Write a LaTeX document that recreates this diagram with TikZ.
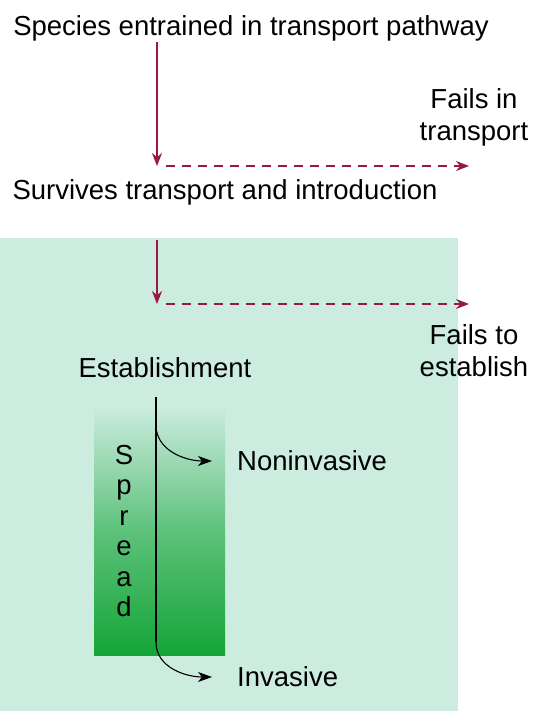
\documentclass[tikz,border=0pt]{standalone}
\usepackage{fontspec}
\setmainfont{Liberation Sans}
\usetikzlibrary{arrows.meta}
\definecolor{wine}{RGB}{150,25,70}
\definecolor{mint}{RGB}{204,236,224}
\definecolor{leaf}{RGB}{20,165,55}
\begin{document}
\begin{tikzpicture}[x=1pt,y=-1pt,
		txt/.style={inner sep=0pt,font=\fontsize{27.5}{32}\selectfont},
		flow/.style={wine,line width=1.3pt,-{Stealth[length=13pt,width=10pt]}},
		fail/.style={wine,line width=1.3pt,dash pattern=on 9pt off 7pt,-{Stealth[length=13pt,width=10pt]}},
		branch/.style={black,line width=1.1pt,-{Stealth[length=14pt,width=10pt,inset=4pt]}}]
		
		\useasboundingbox (0,0) rectangle (533,711);
		\fill[mint] (0,238) rectangle (458,711);
		\shade[top color=mint,bottom color=leaf,middle color=leaf!60!mint] (94,406) rectangle (225,655);
		
		\node[txt] (species) at (251,28) {Species entrained in transport pathway};
		\node[txt] (survives) at (225,192) {Survives transport and introduction};
		\node[txt,align=center] (failtrans) at (474,117) {Fails in\\transport};
		\node[txt,align=center] (failest) at (474,351) {Fails to\\establish};
		\node[txt] (est) at (165,368) {Establishment};
		\node[txt,anchor=west] (nonin) at (237,461) {Noninvasive};
		\node[txt,anchor=west] (inv) at (237,677) {Invasive};
		\node[txt,align=center,font=\fontsize{27.5}{30.5}\selectfont] (spread) at (124,531) {S\\p\\r\\e\\a\\d};
		
		\coordinate (c1) at (157,42);  \coordinate (c2) at (157,166);
		\coordinate (c3) at (166,166); \coordinate (c4) at (469,166);
		\coordinate (c5) at (157,240); \coordinate (c6) at (157,304);
		\coordinate (c7) at (166,304); \coordinate (c8) at (469,304);
		\coordinate (c9) at (156,397); \coordinate (c10) at (156,425);
		\coordinate (c11) at (156,642); \coordinate (c12) at (212,461);
		\coordinate (c13) at (212,677);
		
		\draw[flow] (c1) -- (c2);
		\draw[fail] (c3) -- (c4);
		\draw[flow] (c5) -- (c6);
		\draw[fail] (c7) -- (c8);
		
		\draw[black,line width=1.1pt] (c9) -- (c11);
		\draw[branch] (c10) to[out=-90,in=180] (c12);
		\draw[branch] (c11) to[out=-90,in=180] (c13);
		
	\end{tikzpicture}
\end{document}
